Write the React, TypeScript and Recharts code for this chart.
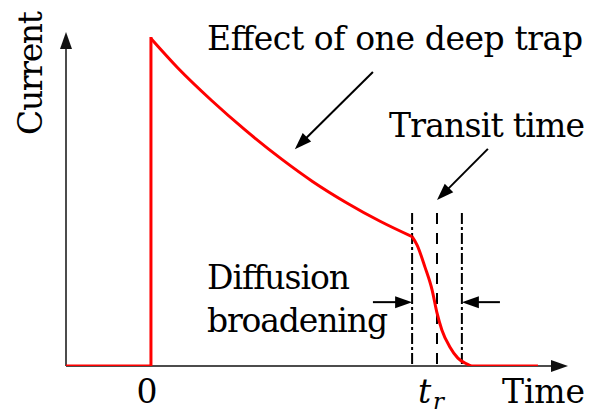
import { ComposedChart, Line, XAxis, YAxis, ReferenceLine } from 'recharts';

// time is in units of the transit time t_r, current is normalised to the initial spike
const stepTime = [-0.297, 0, 0];
const stepCurrent = [0, 0, 1];

// slow decay while carriers are trapped
const decayTime = [0, 0.094, 0.213, 0.329, 0.458, 0.566, 0.685, 0.801, 0.913];
const decayCurrent = [1.0, 0.91, 0.81, 0.721, 0.631, 0.563, 0.498, 0.442, 0.395];

// arrival of the carrier sheet at the far electrode
const dropTime = [0.913, 0.93, 0.958, 0.983, 1.0, 1.017, 1.045, 1.073, 1.098, 1.126, 1.353];
const dropCurrent = [0.395, 0.37, 0.302, 0.232, 0.162, 0.11, 0.058, 0.024, 0.009, 0, 0];

const tickValues = [0, 1];
const tickLabels = ['0', 't_r'];

// spread of the arrival front: start, centre (t_r), end
const frontTimes = [0.913, 1.0, 1.087];
const frontTop = 0.467;

// annotation arrows: [tail t, tail i, head t, head i]
const effectArrow = [0.776, 0.898, 0.503, 0.662];
const transitArrow = [1.178, 0.663, 1.0, 0.507];
const broadenLeft = [0.776, 0.195, 0.913, 0.195];
const broadenRight = [1.22, 0.195, 1.087, 0.195];

const xDomain = [-0.297, 1.458];
const yDomain = [0, 1.02];

const toRows = (ts: number[], is: number[]) => ts.map((t, k) => ({ t, i: is[k] }));
const stepData = toRows(stepTime, stepCurrent);
const decayData = toRows(decayTime, decayCurrent);
const dropData = toRows(dropTime, dropCurrent);

const serif = { fontFamily: "'DejaVu Serif', serif" };

const arrowShape = (stroke: string, width: number, head = 16, half = 6) => (props: any) => {
  const { x1, y1, x2, y2 } = props;
  const dx = x2 - x1;
  const dy = y2 - y1;
  const len = Math.hypot(dx, dy) || 1;
  const ux = dx / len;
  const uy = dy / len;
  const bx = x2 - ux * head;
  const by = y2 - uy * head;
  const px = -uy * half;
  const py = ux * half;
  return (
    <g>
      <line x1={x1} y1={y1} x2={bx + ux * 2} y2={by + uy * 2} stroke={stroke} strokeWidth={width} />
      <polygon points={`${x2},${y2} ${bx + px},${by + py} ${bx - px},${by - py}`} fill={stroke} />
    </g>
  );
};

const TimeTick = (props: any) => {
  const { x, payload } = props;
  const label = tickLabels[tickValues.indexOf(payload.value)];
  if (label === 't_r') {
    return (
      <g fill="#000">
        <text x={x - 19} y={403} fontSize={33} fontStyle="italic" style={serif}>t</text>
        <text x={x - 4} y={409} fontSize={23} fontStyle="italic" style={serif}>r</text>
      </g>
    );
  }
  return (
    <text x={x - 4} y={403} textAnchor="middle" fontSize={33} fill="#000" style={serif}>
      {label}
    </text>
  );
};

const arrowLine = (a: number[], key: string, shape: any) => (
  <ReferenceLine
    key={key}
    segment={[{ x: a[0], y: a[1] }, { x: a[2], y: a[3] }]}
    ifOverflow="visible"
    shape={shape}
  />
);

const redLine = (data: any[], type: any, extra: any = {}) => (
  <Line
    data={data}
    dataKey="i"
    type={type}
    stroke="#ff0000"
    strokeWidth={3}
    dot={false}
    activeDot={false}
    isAnimationActive={false}
    {...extra}
  />
);

export default function App() {
  const black = arrowShape('#000', 2, 17, 6);
  const axis = arrowShape('#111', 1.5, 17, 6);
  return (
    <div style={{ position: 'absolute', left: 0, top: 0, width: 592, height: 413, background: '#fff' }}>
      <ComposedChart width={592} height={413} margin={{ top: 32, right: 24, bottom: 7, left: 66 }}>
        <XAxis
          type="number"
          dataKey="t"
          domain={xDomain}
          allowDataOverflow
          ticks={tickValues}
          axisLine={false}
          tickLine={false}
          height={40}
          tick={<TimeTick />}
        />
        <YAxis type="number" dataKey="i" domain={yDomain} allowDataOverflow hide />

        {arrowLine([xDomain[0], 0, xDomain[1], 0], 'xaxis', axis)}
        {arrowLine([xDomain[0], 0, xDomain[0], yDomain[1]], 'yaxis', axis)}

        {frontTimes.map((t, k) => (
          <ReferenceLine
            key={`front-${k}`}
            segment={[{ x: t, y: frontTop }, { x: t, y: 0 }]}
            stroke="#000"
            strokeWidth={2}
            strokeDasharray={k === 1 ? '11 9' : '11 3 3 3'}
            ifOverflow="visible"
          />
        ))}

        {redLine(stepData, 'linear', { strokeLinecap: 'square' })}
        {redLine(decayData, 'monotoneX')}
        {redLine(dropData, 'monotoneX')}

        {arrowLine(effectArrow, 'effect', black)}
        {arrowLine(transitArrow, 'transit', black)}
        {arrowLine(broadenLeft, 'bl', black)}
        {arrowLine(broadenRight, 'br', black)}

        <g fontSize={33} fill="#000">
          <text x={207} y={50} textLength={376} lengthAdjust="spacing" style={serif}>Effect of one deep trap</text>
          <text x={389} y={137} textLength={196} lengthAdjust="spacing" style={serif}>Transit time</text>
          <text x={207} y={289} textLength={143} lengthAdjust="spacing" style={serif}>Diffusion</text>
          <text x={207} y={332} textLength={181} lengthAdjust="spacing" style={serif}>broadening</text>
          <text x={502} y={403} textLength={83} lengthAdjust="spacing" style={serif}>Time</text>
          <text transform="translate(42,135) rotate(-90)" textLength={124} lengthAdjust="spacing" style={serif}>Current</text>
        </g>
      </ComposedChart>
    </div>
  );
}
